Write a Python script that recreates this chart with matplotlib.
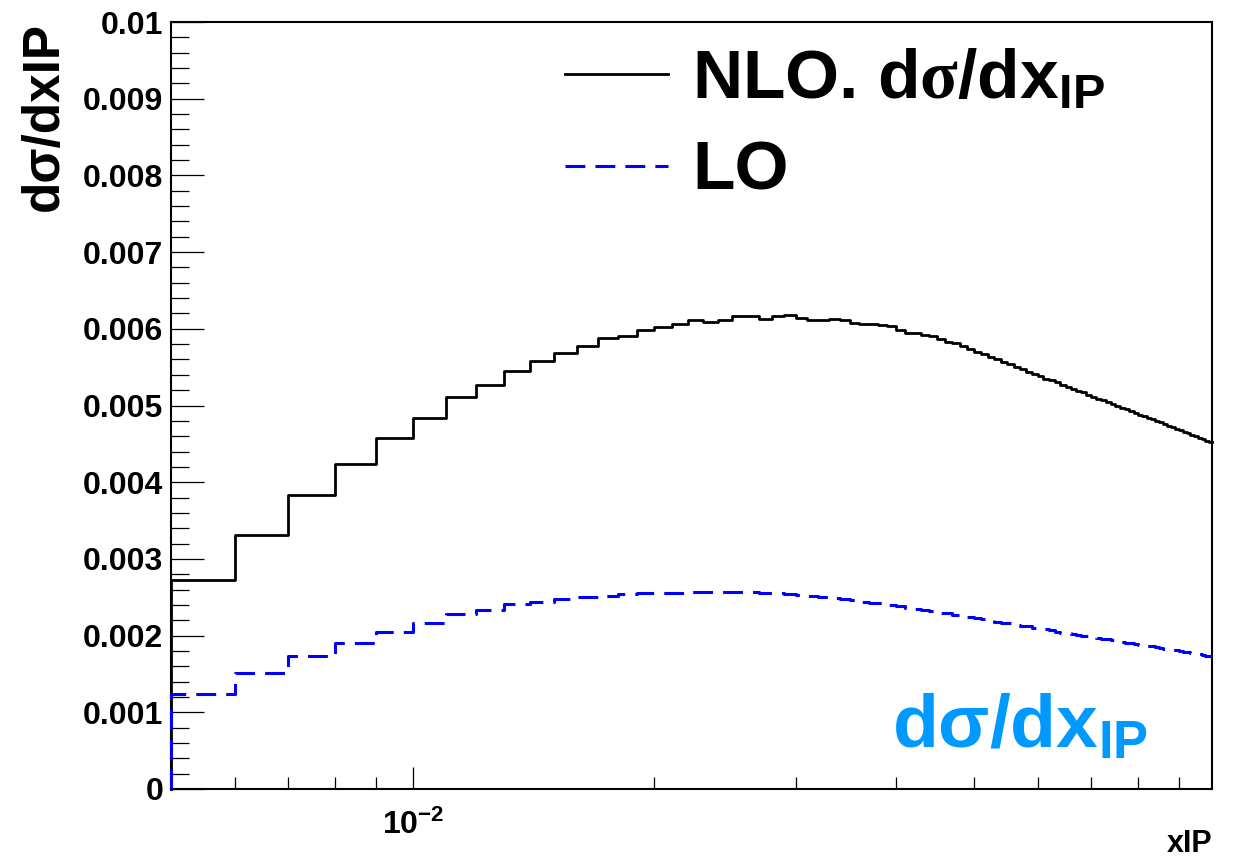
import numpy as np
import matplotlib
matplotlib.use('Agg')
import matplotlib.pyplot as plt
from matplotlib.ticker import MultipleLocator, AutoMinorLocator, LogLocator, FuncFormatter, NullFormatter

plt.rcParams['font.family'] = ['Liberation Sans', 'DejaVu Sans']
plt.rcParams['font.weight'] = 'bold'
plt.rcParams['mathtext.fontset'] = 'custom'
plt.rcParams['mathtext.rm'] = 'Liberation Serif'
plt.rcParams['mathtext.bf'] = 'Liberation Sans:bold'
plt.rcParams['mathtext.it'] = 'Liberation Sans:italic:bold'
plt.rcParams['mathtext.sf'] = 'Liberation Sans:bold'

# binning: 0.001 wide bins starting at xIP = 0.005
x_start = 0.005
bin_width = 0.001
n_bins = 94

# d sigma / d xIP per bin, in units of 1e-3
nlo = [2.72, 3.31, 3.83, 4.24, 4.58, 4.84, 5.11, 5.27, 5.45, 5.58,
       5.69, 5.78, 5.88, 5.90, 5.99, 6.02, 6.06, 6.12, 6.09, 6.12,
       6.17, 6.17, 6.13, 6.17, 6.18, 6.14, 6.11, 6.12, 6.13, 6.12,
       6.07, 6.06, 6.06, 6.05, 6.04, 5.99, 5.95, 5.94, 5.92, 5.91,
       5.87, 5.83, 5.81, 5.78, 5.74, 5.70, 5.67, 5.63, 5.60, 5.57,
       5.54, 5.50, 5.47, 5.44, 5.41, 5.38, 5.35, 5.33, 5.30, 5.27,
       5.24, 5.22, 5.19, 5.17, 5.14, 5.11, 5.09, 5.07, 5.04, 5.02,
       4.99, 4.97, 4.95, 4.93, 4.90, 4.88, 4.86, 4.84, 4.82, 4.80,
       4.78, 4.76, 4.73, 4.72, 4.70, 4.68, 4.66, 4.64, 4.62, 4.60,
       4.58, 4.56, 4.54, 4.52]

lo = [1.24, 1.51, 1.74, 1.91, 2.05, 2.17, 2.28, 2.33, 2.41, 2.44,
      2.48, 2.50, 2.52, 2.54, 2.55, 2.56, 2.56, 2.57, 2.57, 2.57,
      2.57, 2.57, 2.56, 2.55, 2.54, 2.53, 2.52, 2.50, 2.49, 2.48,
      2.46, 2.44, 2.43, 2.42, 2.40, 2.38, 2.36, 2.35, 2.33, 2.32,
      2.30, 2.29, 2.27, 2.26, 2.24, 2.23, 2.21, 2.20, 2.18, 2.17,
      2.16, 2.14, 2.13, 2.12, 2.10, 2.09, 2.08, 2.07, 2.05, 2.04,
      2.03, 2.02, 2.01, 2.00, 1.99, 1.98, 1.97, 1.96, 1.95, 1.94,
      1.93, 1.92, 1.91, 1.90, 1.89, 1.88, 1.87, 1.86, 1.86, 1.85,
      1.84, 1.83, 1.82, 1.81, 1.81, 1.80, 1.79, 1.78, 1.77, 1.77,
      1.76, 1.75, 1.74, 1.73]

edges = np.round(x_start + bin_width * np.arange(n_bins + 1), 4)
nlo = np.array(nlo) * 1e-3
lo = np.array(lo) * 1e-3

fig = plt.figure(figsize=(12.36, 8.67), dpi=100)
ax = fig.add_axes([171 / 1236, 1 - 789 / 867, (1212.3 - 171) / 1236, (789 - 22) / 867])


def hist_outline(vals):
    # ROOT style outline: rise from 0 at the first edge, steps afterwards
    xs = np.r_[edges[0], edges]
    ys = np.r_[0.0, vals, vals[-1]]
    return xs, ys


xs, ys = hist_outline(nlo)
l1, = ax.plot(xs, ys, drawstyle='steps-post', color='black', lw=2.0,
              clip_on=False, zorder=3, label=r'NLO. d$\mathrm{\sigma}$/d$\mathbf{x}_{\mathbf{IP}}$')
xs, ys = hist_outline(lo)
l2, = ax.plot(xs, ys, drawstyle='steps-post', color='#0000ff', lw=2.2,
              linestyle=(0, (6.5, 3.3)), clip_on=False, zorder=3, label='LO')

ax.set_xscale('log')
ax.set_xlim(edges[0], edges[-1])
ax.set_ylim(0, 0.01)

ax.xaxis.set_major_locator(LogLocator(base=10))
ax.xaxis.set_major_formatter(FuncFormatter(
    lambda v, p: r'$\mathbf{10^{%d}}$' % int(round(np.log10(v)))))
ax.xaxis.set_minor_locator(LogLocator(base=10, subs=np.arange(2, 10)))
ax.xaxis.set_minor_formatter(NullFormatter())
ax.yaxis.set_major_locator(MultipleLocator(0.001))
ax.yaxis.set_minor_locator(AutoMinorLocator(5))
ax.yaxis.set_major_formatter(FuncFormatter(lambda v, p: '%g' % round(v, 4)))

ax.tick_params(axis='x', which='major', direction='in', length=15.8, width=0.9,
               labelsize=23, pad=15, top=False)
ax.tick_params(axis='x', which='minor', direction='in', length=8.6, width=0.9, top=False)
ax.tick_params(axis='y', which='major', direction='in', length=23.5, width=0.9,
               labelsize=23, pad=5.5, right=False)
ax.tick_params(axis='y', which='minor', direction='in', length=12.7, width=0.9, right=False)
for sp in ax.spines.values():
    sp.set_linewidth(1.5)

fig.text(0.0355, 1 - 22 / 867, 'd\u03c3/dxIP', rotation=90, ha='center', va='top',
         fontsize=37, fontweight='bold')
fig.text(1212.3 / 1236, 1 - 829 / 867, 'xIP', ha='right', va='top',
         fontsize=22, fontweight='bold')

ax.legend(handles=[l1, l2], loc='upper left', bbox_to_anchor=(0.3784, 0.967),
          frameon=False, fontsize=50, handlelength=1.48, handletextpad=0.35,
          labelspacing=0.4, borderpad=0, borderaxespad=0)

ax.text(0.692, 0.0548, 'd\u03c3/d$\\mathbf{x}_{\\mathbf{IP}}$', transform=ax.transAxes,
        color='#0099ff', fontsize=54, fontweight='bold', va='baseline', ha='left')

fig.savefig('out.png', dpi=100)
